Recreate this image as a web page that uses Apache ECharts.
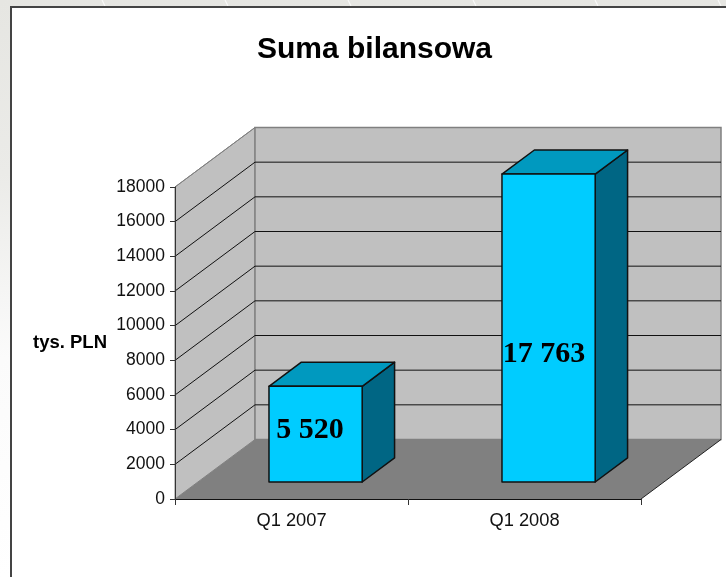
<!DOCTYPE html>
<html><head><meta charset="utf-8">
<style>html,body{margin:0;padding:0;background:#fff}#c{width:726px;height:577px}</style>
<script src="https://cdn.jsdelivr.net/npm/echarts@6/dist/echarts.min.js"></script>
</head><body><div id="c"></div>
<script>
const categories = ['Q1 2007', 'Q1 2008'];
const values = [5520, 17763];
const valueLabels = ['5 520', '17 763'];
const yTicks = [0, 2000, 4000, 6000, 8000, 10000, 12000, 14000, 16000, 18000];

// Oblique projection used to fake the 3D look
const DEPTH = { dx: 80, dy: -59.5 };
const BAR = { widthRatio: 0.4, frontZ: 0.286, depthZ: 0.405, nudgeX: 1.2 };
const LABEL_SHIFT = [{ x: -5.5, y: -3.5 }, { x: -4.5, y: 26.5 }];

const chart = echarts.init(document.getElementById('c'), null, { renderer: 'canvas' });

function wallsItem(params, api) {
  const cs = params.coordSys;
  const l = cs.x, r = cs.x + cs.width, t = cs.y, b = cs.y + cs.height;
  const { dx, dy } = DEPTH;
  const wall = '#c0c0c0', edge = '#808080';
  const children = [
    { type: 'polygon', shape: { points: [[l, b], [l, t], [l + dx, t + dy], [l + dx, b + dy]] },
      style: { fill: wall, stroke: edge, lineWidth: 1 } },
    { type: 'polygon', shape: { points: [[l + dx, b + dy], [l + dx, t + dy], [r + dx, t + dy], [r + dx, b + dy]] },
      style: { fill: wall, stroke: edge, lineWidth: 1.5 } },
    { type: 'polygon', shape: { points: [[l, b], [l + dx, b + dy], [r + dx, b + dy], [r, b]] },
      style: { fill: '#808080', stroke: null } },
    { type: 'line', shape: { x1: r, y1: b, x2: r + dx, y2: b + dy }, style: { stroke: '#222', lineWidth: 1 } }
  ];
  yTicks.filter(v => v > 0).forEach(v => {
    const y = api.coord([0, v])[1];
    const pts = [[l, y], [l + dx, y + dy], [r + dx, y + dy]];
    children.push({ type: 'polyline', shape: { points: pts },
      style: { fill: null, stroke: v === yTicks[yTicks.length - 1] ? edge : '#111', lineWidth: 1 } });
  });
  return { type: 'group', children };
}

function barItem(params, api) {
  const i = api.value(0), v = api.value(1);
  const base = api.coord([i, 0]), top = api.coord([i, v]);
  const w = api.size([1, 0])[0] * BAR.widthRatio;
  const fx = DEPTH.dx * BAR.frontZ + BAR.nudgeX, fy = DEPTH.dy * BAR.frontZ;
  const ddx = DEPTH.dx * BAR.depthZ, ddy = DEPTH.dy * BAR.depthZ;
  const x0 = base[0] - w / 2 + fx, x1 = x0 + w;
  const yb = base[1] + fy, yt = top[1] + fy;
  const stroke = { stroke: '#111', lineWidth: 1.5, lineJoin: 'round' };
  const shift = LABEL_SHIFT[i];
  return { type: 'group', children: [
    { type: 'polygon', shape: { points: [[x1, yb], [x1, yt], [x1 + ddx, yt + ddy], [x1 + ddx, yb + ddy]] },
      style: Object.assign({ fill: '#006684' }, stroke) },
    { type: 'polygon', shape: { points: [[x0, yt], [x0 + ddx, yt + ddy], [x1 + ddx, yt + ddy], [x1, yt]] },
      style: Object.assign({ fill: '#0099bf' }, stroke) },
    { type: 'rect', shape: { x: x0, y: yt, width: w, height: yb - yt },
      style: Object.assign({ fill: '#00ccff' }, stroke) },
    { type: 'text', style: {
        x: (x0 + x1) / 2 + shift.x, y: (yt + yb) / 2 + shift.y,
        text: valueLabels[i], fill: '#000', align: 'center', verticalAlign: 'middle',
        font: 'bold 30px "Liberation Serif"' } }
  ]};
}

const streak = (x1, y1, x2, y2) => ({ type: 'line', z: -9.5, shape: { x1, y1, x2, y2 },
  style: { stroke: 'rgba(255,255,255,0.75)', lineWidth: 1.2 } });

chart.setOption({
  animation: false,
  backgroundColor: '#fff',
  graphic: [
    { type: 'rect', z: -10, shape: { x: 0, y: 0, width: 726, height: 577 },
      style: { fill: { type: 'linear', x: 0, y: 0, x2: 0, y2: 1, colorStops: [
        { offset: 0, color: '#e6e6e2' }, { offset: 0.3, color: '#ebebe8' },
        { offset: 0.62, color: '#fbfbfb' }, { offset: 1, color: '#ffffff' }] } } },
    streak(102, 0, 105, 6), streak(225, 0, 228, 6), streak(348, 0, 351, 6),
    streak(473, 0, 476, 6), streak(595, 0, 598, 6), streak(718, 0, 721, 6),
    { type: 'rect', z: -9, shape: { x: 11, y: 7, width: 730, height: 590 },
      style: { fill: '#fff', stroke: '#444', lineWidth: 2 } }
  ],
  title: {
    text: 'Suma bilansowa', left: 374.5, top: 35, textAlign: 'center', padding: 0,
    textStyle: { fontFamily: 'Liberation Sans', fontWeight: 'bold', fontSize: 30, color: '#000' }
  },
  grid: { left: 175, top: 187, width: 466, height: 312, containLabel: false },
  xAxis: {
    type: 'category', data: categories, z: 10,
    axisLine: { lineStyle: { color: '#111', width: 1 } },
    axisTick: { show: true, length: 6, lineStyle: { color: '#333' } },
    axisLabel: { fontFamily: 'Liberation Sans', fontSize: 18.3, color: '#111', margin: 13 }
  },
  yAxis: {
    type: 'value', min: 0, max: 18000, interval: 2000, z: 10,
    name: 'tys. PLN', nameLocation: 'middle', nameRotate: 0, nameGap: 68,
    nameTextStyle: { fontFamily: 'Liberation Sans', fontWeight: 'bold', fontSize: 18.5, color: '#000', padding: [2, 0, 0, 0] },
    axisLine: { show: true, lineStyle: { color: '#333', width: 1 } },
    axisTick: { show: true, length: 5, lineStyle: { color: '#333' } },
    axisLabel: { fontFamily: 'Liberation Sans', fontSize: 17.5, color: '#111', margin: 10,
      padding: [3, 0, 0, 0], formatter: v => String(v) },
    splitLine: { show: false }
  },
  series: [
    { type: 'custom', z: 1, silent: true, data: [[0, 0]], renderItem: wallsItem,
      encode: { x: 0, y: 1 } },
    { type: 'custom', z: 3, data: values.map((v, i) => [i, v]), renderItem: barItem,
      encode: { x: 0, y: 1 }, clip: false }
  ]
});
</script></body></html>
